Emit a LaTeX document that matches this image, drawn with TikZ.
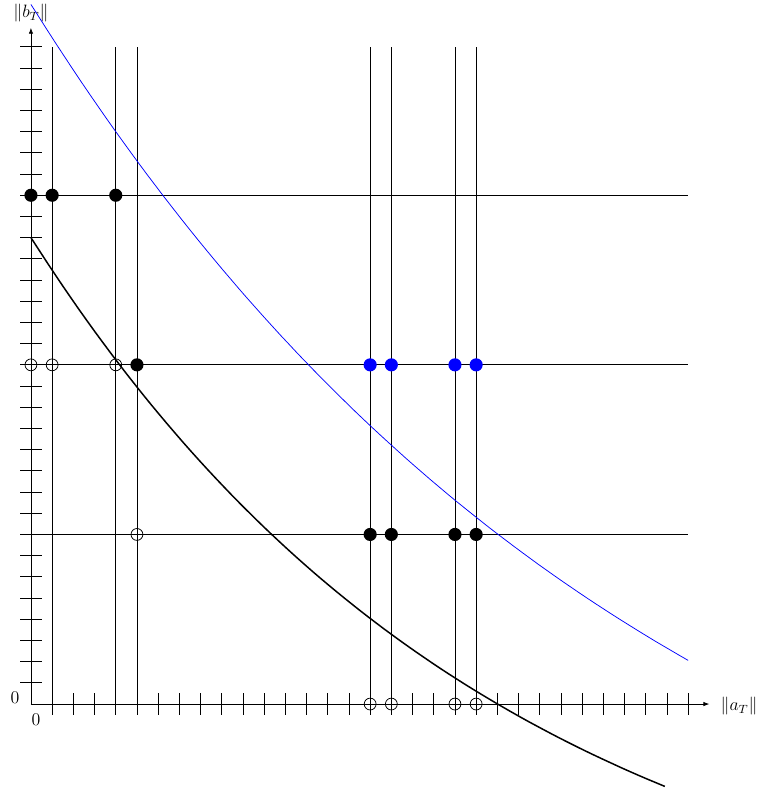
\documentclass[tikz,border=0pt]{standalone}
\usepackage{amsmath,amssymb}
\usepackage{tikz}
\usetikzlibrary{arrows.meta}
\tikzset{
  fdot/.style   ={circle, fill=black, inner sep=0pt, minimum size=3.1mm},
  bdot/.style   ={circle, fill=blue, inner sep=0pt, minimum size=3.1mm},
  odot/.style   ={circle, draw, inner sep=0pt, minimum size=2.8mm,
                  line width=0.5pt},
  axisln/.style ={-{Latex[length=1.4mm]}, line width=0.5pt},
  tck/.style    ={line width=0.5pt},
  gridln/.style ={line width=0.5pt},
  lowcurve/.style={line width=1pt},
  upcurve/.style={blue, line width=0.5pt},
  axlbl/.style  ={font=\large, inner sep=1pt},
}

\begin{document}
\begin{tikzpicture}[x=0.5cm, y=0.5cm]
  \useasboundingbox (-1.46,-4.29) rectangle (34.39,33.21);
  % ---- axes and ticks
  \coordinate (o) at (0,0);
  \coordinate (xend) at (32,0);
  \coordinate (yend) at (0,31.9);
  \draw[axisln] (o) -- (xend);
  \draw[axisln] (o) -- (yend);
  \foreach \k in {1,...,31} {
    \draw[tck] (\k,-0.5) -- (\k,0.5);
    \draw[tck] (-0.5,\k) -- (0.5,\k);
  }
  \node[axlbl] (xlab) at (33.4,-0.1) {$\|a_T\|$};
  \node[axlbl] (ylab) at (0,32.6) {$\|b_T\|$};
  \node[axlbl] (zy) at (-0.75,0.3) {$0$};
  \node[axlbl] (zx) at (0.24,-0.72) {$0$};
  % ---- grid of levels
  \foreach \a in {1,4,5,16,17,20,21}
    \draw[gridln] (\a,0) -- (\a,31);
  \foreach \b in {8,16,24}
    \draw[gridln] (-0.5,\b) -- (31,\b);
  % ---- the two boundary curves
  \draw[lowcurve, domain=0:29.9, samples=80]
    plot (\x, {35*exp(-0.045*\x)-13});
  \draw[upcurve, domain=0:31, samples=80]
    plot (\x, {47.9*exp(-0.0335*\x)-14.9});
  % ---- top row
  \node[fdot] (p0t) at (0,24) {};
  \node[fdot] (p1t) at (1,24) {};
  \node[fdot] (p4t) at (4,24) {};
  % ---- middle row
  \node[odot] (p0m) at (0,16) {};
  \node[odot] (p1m) at (1,16) {};
  \node[odot] (p4m) at (4,16) {};
  \node[fdot] (p5m) at (5,16) {};
  \node[bdot] (q16m) at (16,16) {};
  \node[bdot] (q17m) at (17,16) {};
  \node[bdot] (q20m) at (20,16) {};
  \node[bdot] (q21m) at (21,16) {};
  % ---- lower row
  \node[odot] (p5l) at (5,8) {};
  \node[fdot] (q16l) at (16,8) {};
  \node[fdot] (q17l) at (17,8) {};
  \node[fdot] (q20l) at (20,8) {};
  \node[fdot] (q21l) at (21,8) {};
  % ---- on the axis
  \node[odot] (q16a) at (16,0) {};
  \node[odot] (q17a) at (17,0) {};
  \node[odot] (q20a) at (20,0) {};
  \node[odot] (q21a) at (21,0) {};
\end{tikzpicture}
\end{document}
